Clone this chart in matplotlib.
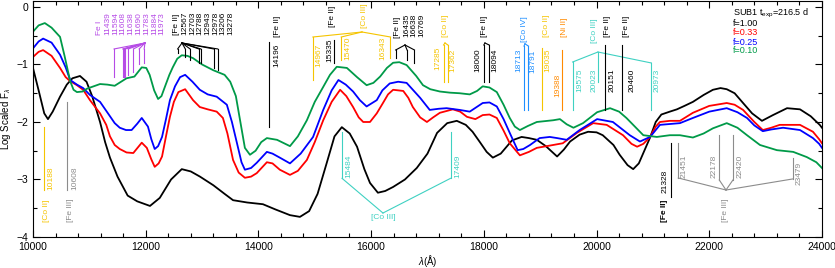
import numpy as np
import matplotlib
matplotlib.use('Agg')
import matplotlib.pyplot as plt
from matplotlib.ticker import MultipleLocator

plt.rcParams['font.family'] = ['Liberation Sans', 'DejaVu Sans']
plt.rcParams['mathtext.fontset'] = 'custom'
plt.rcParams['mathtext.rm'] = 'Liberation Sans'
plt.rcParams['mathtext.it'] = 'Liberation Sans:italic'

# spectra: wavelength (A) and log scaled flux
w_f100 = [10000, 10100, 10200, 10266, 10350, 10480, 10600, 10700, 10834, 10950, 11050, 11190, 11280, 11366,
          11500, 11680, 11850, 12076, 12250, 12450, 12640, 12800, 12963, 13200, 13400, 13550, 13800, 14080,
          14300, 14560, 14737, 14900, 15050, 15210, 15350, 15480, 15620, 15750, 15880, 15980, 16120, 16250,
          16390, 16600, 16810, 17000, 17170, 17350, 17520, 17680, 17800, 17930, 18050, 18160, 18300, 18500,
          18670, 18800, 18940, 19100, 19300, 19420, 19530, 19700, 19850, 20000, 20110, 20300, 20410, 20550,
          20650, 20750, 20830, 20950, 21050, 21150, 21300, 21426, 21560, 21710, 21900, 22065, 22200, 22310,
          22450, 22600, 22760, 22935, 23130, 23380, 23610, 23800, 23960, 24000]
f100 = [-1.06, -1.45, -1.85, -1.95, -1.82, -1.56, -1.35, -1.24, -1.20, -1.30, -1.55, -2.00, -2.35, -2.62,
        -2.95, -3.28, -3.38, -3.46, -3.32, -3.00, -2.82, -2.86, -2.95, -3.10, -3.25, -3.36, -3.40, -3.43,
        -3.52, -3.62, -3.65, -3.55, -3.25, -2.72, -2.25, -2.09, -2.20, -2.43, -2.82, -3.06, -3.23, -3.20,
        -3.13, -3.00, -2.80, -2.55, -2.19, -2.02, -1.98, -2.05, -2.17, -2.35, -2.52, -2.62, -2.55, -2.32,
        -2.26, -2.28, -2.31, -2.42, -2.60, -2.48, -2.34, -2.22, -2.17, -2.18, -2.23, -2.40, -2.57, -2.75,
        -2.82, -2.72, -2.54, -2.27, -2.00, -1.87, -1.82, -1.78, -1.72, -1.65, -1.53, -1.44, -1.41, -1.43,
        -1.50, -1.67, -1.85, -1.98, -1.88, -1.76, -1.78, -1.90, -2.05, -2.10]

w_f033 = [10000, 10100, 10180, 10330, 10480, 10580, 10660, 10780, 10890, 11011, 11190, 11300, 11366, 11450,
          11540, 11660, 11780, 11930, 12020, 12100, 12160, 12230, 12290, 12360, 12430, 12500, 12580, 12700,
          12840, 12960, 13100, 13260, 13370, 13450, 13550, 13650, 13760, 13870, 13970, 14150, 14250, 14380,
          14560, 14700, 14860, 15000, 15150, 15300, 15450, 15560, 15680, 15780, 15860, 15980, 16100, 16210,
          16300, 16390, 16570, 16660, 16740, 16870, 16990, 17100, 17220, 17450, 17580, 17700, 17850, 17980,
          18100, 18230, 18350, 18460, 18640, 18800, 18940, 19230, 19400, 19650, 19940, 20180, 20470, 20620,
          20720, 20830, 20950, 21050, 21125, 21300, 21480, 21710, 22000, 22310, 22450, 22600, 22800, 22950,
          23100, 23250, 23610, 23840, 23950, 24000]
f033 = [-0.87, -0.78, -0.75, -0.85, -1.06, -1.22, -1.29, -1.36, -1.44, -1.62, -1.85, -2.05, -2.25, -2.40,
        -2.47, -2.53, -2.54, -2.36, -2.45, -2.65, -2.78, -2.72, -2.60, -2.25, -1.91, -1.65, -1.48, -1.43,
        -1.62, -1.74, -1.78, -1.82, -1.93, -2.20, -2.66, -2.88, -2.97, -2.95, -2.89, -2.70, -2.72, -2.83,
        -2.92, -2.85, -2.66, -2.35, -1.97, -1.65, -1.44, -1.55, -1.74, -1.92, -2.00, -2.00, -1.85, -1.67,
        -1.52, -1.44, -1.46, -1.58, -1.74, -1.92, -2.00, -1.92, -1.84, -1.78, -1.82, -1.91, -1.95, -1.88,
        -1.87, -1.93, -2.15, -2.37, -2.58, -2.52, -2.45, -2.40, -2.37, -2.19, -2.02, -2.05, -2.23, -2.38,
        -2.43, -2.38, -2.26, -2.08, -2.00, -1.98, -1.98, -1.84, -1.72, -1.67, -1.70, -1.79, -2.00, -2.14,
        -2.10, -2.05, -2.05, -2.17, -2.30, -2.37]

w_f025 = [10000, 10100, 10180, 10330, 10480, 10580, 10660, 10780, 10890, 11011, 11190, 11366, 11450, 11540,
          11650, 11750, 11850, 11930, 12040, 12100, 12160, 12220, 12290, 12360, 12430, 12520, 12610, 12700,
          12830, 12960, 13100, 13260, 13440, 13530, 13620, 13700, 13760, 13870, 13970, 14150, 14250, 14380,
          14560, 14750, 14970, 15150, 15300, 15420, 15550, 15680, 15800, 15920, 16100, 16200, 16330, 16480,
          16630, 16750, 16870, 17040, 17200, 17340, 17570, 17750, 17980, 18100, 18230, 18350, 18460, 18600,
          18700, 18820, 18990, 19170, 19300, 19470, 19700, 20010, 20290, 20590, 20770, 20950, 21125, 21480,
          21710, 22000, 22310, 22500, 22670, 22800, 22950, 23100, 23310, 23610, 23840, 23950, 24000]
f025 = [-0.72, -0.60, -0.55, -0.62, -0.83, -1.05, -1.27, -1.35, -1.41, -1.53, -1.65, -1.90, -2.02, -2.10,
        -2.14, -2.14, -2.03, -1.93, -2.08, -2.30, -2.47, -2.42, -2.26, -1.95, -1.62, -1.38, -1.22, -1.18,
        -1.30, -1.44, -1.52, -1.56, -1.70, -2.00, -2.37, -2.70, -2.83, -2.80, -2.71, -2.52, -2.55, -2.62,
        -2.72, -2.55, -2.26, -1.79, -1.45, -1.27, -1.35, -1.47, -1.62, -1.73, -1.62, -1.45, -1.33, -1.30,
        -1.32, -1.45, -1.58, -1.79, -1.77, -1.76, -1.79, -1.82, -1.67, -1.66, -1.73, -1.95, -2.19, -2.49,
        -2.47, -2.40, -2.28, -2.26, -2.28, -2.31, -2.14, -1.95, -2.00, -2.23, -2.34, -2.26, -2.05, -2.02,
        -1.93, -1.82, -1.76, -1.83, -1.93, -2.06, -2.16, -2.13, -2.10, -2.14, -2.28, -2.38, -2.45]

w_f010 = [10000, 10100, 10210, 10330, 10480, 10560, 10660, 10720, 10780, 10880, 10960, 11190, 11320, 11450,
          11660, 11800, 11930, 12010, 12070, 12150, 12220, 12280, 12340, 12420, 12480, 12560, 12640, 12740,
          12840, 13000, 13200, 13400, 13500, 13600, 13680, 13760, 13850, 13950, 14050, 14150, 14330, 14560,
          14700, 14860, 15000, 15150, 15270, 15390, 15570, 15750, 15920, 16040, 16160, 16280, 16390, 16500,
          16630, 16800, 16920, 17050, 17220, 17400, 17570, 17750, 17880, 17980, 18100, 18230, 18350, 18460,
          18550, 18640, 18780, 18940, 19230, 19350, 19470, 19590, 19760, 20010, 20240, 20400, 20530, 20700,
          20830, 21070, 21300, 21480, 21710, 21900, 22065, 22310, 22500, 22670, 22900, 23200, 23490, 23730,
          23900, 24000]
f010 = [-0.43, -0.32, -0.28, -0.36, -0.52, -0.85, -1.29, -1.44, -1.48, -1.47, -1.42, -1.34, -1.35, -1.37,
        -1.24, -1.21, -1.05, -1.06, -1.18, -1.45, -1.60, -1.55, -1.39, -1.18, -1.05, -0.90, -0.84, -0.85,
        -0.89, -1.00, -1.10, -1.18, -1.30, -1.55, -2.00, -2.45, -2.57, -2.50, -2.35, -2.28, -2.31, -2.42,
        -2.25, -1.97, -1.65, -1.39, -1.18, -1.04, -1.06, -1.22, -1.36, -1.32, -1.21, -1.06, -0.97, -0.96,
        -1.01, -1.20, -1.36, -1.43, -1.47, -1.49, -1.50, -1.52, -1.46, -1.38, -1.40, -1.48, -1.70, -1.93,
        -2.08, -2.14, -2.07, -2.00, -1.97, -1.95, -2.04, -2.10, -2.02, -1.83, -1.76, -1.82, -1.93, -2.10,
        -2.23, -2.26, -2.23, -2.23, -2.27, -2.20, -2.11, -2.02, -2.10, -2.23, -2.40, -2.49, -2.52, -2.61,
        -2.70, -2.80]

# line identifications (A)
fe1_lines = [11439, 11594, 11608, 11638, 11690, 11783, 11884, 11973]
fe2_a = [12567, 12703, 12788, 12943, 12978, 13206, 13278]
fe2_b = [14196]
co3_a = [14967, 15470, 16343]
fe2_c = [15335]
fe2_d = [16435, 16638, 16769]
co2_a = [17285, 17362]
fe2_e = [18000, 18094]
co4 = [18713, 18791]
co2_b = [19035]
ni2 = [19388]
co3_b = [19575, 20023, 20973]
fe2_f = [20151]
fe2_g = [20460]
co3_c = [15484, 17409]
fe2_h = [21328]
fe3_a = [21451, 22178, 22420, 23479]
co2_c = [10188]
fe3_b = [10608]

c_fe1 = '#b64be6'
c_gold = '#f5c400'
c_turq = '#3fd1c2'
c_co4 = '#1e8fff'
c_ni = '#ff8a00'
c_grey = '#8c8c8c'
fs = 6.0
lwa = 0.8

fig = plt.figure(figsize=(8.35, 2.68), dpi=100)
ax = fig.add_axes([0.0395, 0.1157, 0.9449, 0.8797])

ax.plot(w_f100, f100, color='k', lw=1.3)
ax.plot(w_f033, f033, color='#ff0000', lw=1.3)
ax.plot(w_f025, f025, color='#0000ff', lw=1.3)
ax.plot(w_f010, f010, color='#009a48', lw=1.3)


def vt(x, y, s, c, va='bottom', **kw):
    ax.text(x, y, s, rotation=90, color=c, ha='center', va=va, fontsize=fs, **kw)


def tree(waves, hub, knees, ends, c):
    if np.isscalar(knees):
        knees = [knees] * len(waves)
    for w, k, e in zip(waves, knees, ends):
        ax.plot([hub[0], w], [hub[1], k], color=c, lw=lwa)
        ax.plot([w, w], [k, e], color=c, lw=lwa)


def stick(w, y0, y1, c):
    ax.plot([w, w], [y0, y1], color=c, lw=lwa)


# Fe I
vt(11189, -0.487, 'Fe I', c_fe1)
for k, w in enumerate(fe1_lines):
    vt(11189 + 138 * (k + 1), -0.487, str(w), c_fe1)
tree(fe1_lines, (11987, -0.626), -0.73, [-1.22, -1.22, -1.22, -1.22, -1.18, -1.13, -1.0, -0.97], c_fe1)

# [Fe II] 1.25-1.33 um
vt(12555, -0.487, '[Fe II]', 'k')
for k, w in enumerate(fe2_a):
    vt(12555 + 137 * (k + 1), -0.487, str(w), 'k')
tree(fe2_a, (12644, -0.626), -0.73, [-0.80, -0.87, -0.92, -0.97, -0.97, -1.06, -1.10], 'k')

# [Fe II] 14196
vt(14330, -0.522, '[Fe II]', 'k')
vt(14330, -1.043, str(fe2_b[0]), 'k')
stick(fe2_b[0], -0.609, -2.087, 'k')

# [Co III] top
vt(15891, -0.365, '[Co III]', c_gold)
tree(co3_a, (15838, -0.435), -0.522, [-1.27, -0.92, -0.89], c_gold)
vt(15075, -1.043, str(co3_a[0]), c_gold)
vt(15589, -0.922, str(co3_a[1]), c_gold)
vt(16210, -0.922, str(co3_a[2]), c_gold)

# [Fe II] 15335
vt(15323, -0.348, '[Fe II]', 'k')
vt(15270, -0.957, str(fe2_c[0]), 'k')
stick(fe2_c[0], -0.574, -0.974, 'k')

# [Fe II] 1.64 um
vt(16460, -0.539, '[Fe II]', 'k')
for x, w in zip([16630, 16765, 16900], fe2_d):
    vt(x, -0.522, str(w), 'k')
tree(fe2_d, (16601, -0.661), -0.748, [-0.887, -0.922, -0.974], 'k')

# [Co II] 1.73 um
vt(17311, -0.522, '[Co II]', c_gold)
tree(co2_a, (17311, -0.626), -0.661, [-1.304, -1.304], c_gold)
vt(17186, -1.096, str(co2_a[0]), c_gold)
vt(17452, -1.13, str(co2_a[1]), c_gold)

# [Fe II] 1.80 um
vt(18020, -0.522, '[Fe II]', 'k')
tree(fe2_e, (18020, -0.626), -0.661, [-1.304, -1.304], 'k')
vt(17896, -1.13, str(fe2_e[0]), 'k')
vt(18198, -1.13, str(fe2_e[1]), 'k')

# [Co IV]
vt(18730, -0.609, '[Co IV]', c_co4)
tree(co4, (18730, -0.64), -0.68, [-1.791, -1.791], c_co4)
vt(18624, -1.13, str(co4[0]), c_co4)
vt(18872, -1.148, str(co4[1]), c_co4)

# [Co II] 19035
vt(19120, -0.522, '[Co II]', c_gold)
stick(co2_b[0], -0.713, -1.791, c_gold)
vt(19138, -1.13, str(co2_b[0]), c_gold)

# [Ni II]
vt(19440, -0.522, '[Ni II]', c_ni)
stick(ni2[0], -0.748, -1.791, c_ni)
vt(19316, -1.565, str(ni2[0]), c_ni)

# [Co III] 2.0 um
vt(19972, -0.626, '[Co III]', c_turq)
tree(co3_b, (20025, -0.783), [-0.957, -0.783, -0.974], [-1.791, -1.304, -1.791], c_turq)
vt(19706, -1.478, str(co3_b[0]), c_turq)
vt(19954, -1.478, str(co3_b[1]), c_turq)
vt(21072, -1.478, str(co3_b[2]), c_turq)

# [Fe II] 20151, 20460
vt(20203, -0.522, '[Fe II]', 'k')
stick(fe2_f[0], -0.661, -1.791, 'k')
vt(20274, -1.478, str(fe2_f[0]), 'k')
vt(20540, -0.522, '[Fe II]', 'k')
stick(fe2_g[0], -0.661, -1.791, 'k')
vt(20629, -1.478, str(fe2_g[0]), 'k')

# [Co III] bottom
tree(co3_c, (16210, -3.583), -2.98, [-2.174, -2.174], c_turq)
ax.text(16210, -3.60, '[Co III]', color=c_turq, ha='center', va='top', fontsize=fs)
vt(15607, -2.974, str(co3_c[0]), c_turq)
vt(17541, -2.974, str(co3_c[1]), c_turq)

# [Fe II] 21328
stick(fe2_h[0], -2.365, -3.304, 'k')
vt(21214, -2.835, str(fe2_h[0]), 'k', va='top')
vt(21214, -3.357, '[Fe II]', 'k', va='top', fontweight='bold')

# [Fe III] 2.2 um
tree(fe3_a, (22297, -3.183), [-2.974, -3.009, -3.009, -2.991], [-2.365, -2.226, -2.226, -2.626], c_grey)
vt(21552, -2.974, str(fe3_a[0]), c_grey)
vt(22084, -2.974, str(fe3_a[1]), c_grey)
vt(22545, -2.974, str(fe3_a[2]), c_grey)
vt(23592, -3.096, str(fe3_a[3]), c_grey)
vt(22297, -3.322, '[Fe III]', c_grey, va='top')

# bottom left
stick(co2_c[0], -2.087, -3.183, c_gold)
vt(10319, -3.183, str(co2_c[0]), c_gold)
vt(10248, -3.357, '[Co II]', c_gold, va='top')
stick(fe3_b[0], -1.652, -3.183, c_grey)
vt(10745, -3.183, str(fe3_b[0]), c_grey)
vt(10657, -3.322, '[Fe III]', c_grey, va='top')

# legend text
ax.text(22421, -0.115, r'SUB1 t$_{\rm exp}$=216.5 d', color='k', fontsize=6.5, va='center')
for y, s, c in zip([-0.285, -0.44, -0.609, -0.765],
                   ['f=1.00', 'f=0.33', 'f=0.25', 'f=0.10'],
                   ['k', '#ff0000', '#0000ff', '#009a48']):
    ax.text(22421, y, s, color=c, fontsize=6.5, va='center')

ax.set_xlim(10000, 24000)
ax.set_ylim(-4, 0.1)
ax.xaxis.set_major_locator(MultipleLocator(2000))
ax.xaxis.set_minor_locator(MultipleLocator(400))
ax.yaxis.set_major_locator(MultipleLocator(1))
ax.yaxis.set_minor_locator(MultipleLocator(0.5))
ax.tick_params(which='both', direction='in', top=True, right=True, labelsize=7.5, width=0.8)
ax.tick_params(which='major', length=5)
ax.tick_params(which='minor', length=3)
for s in ax.spines.values():
    s.set_linewidth(0.8)
ax.set_xlabel(r'$\lambda$(Å)', fontsize=7, labelpad=0.5)
ax.set_ylabel(r'Log Scaled F$_\lambda$', fontsize=7, labelpad=2)

fig.savefig('out.png', dpi=100)
